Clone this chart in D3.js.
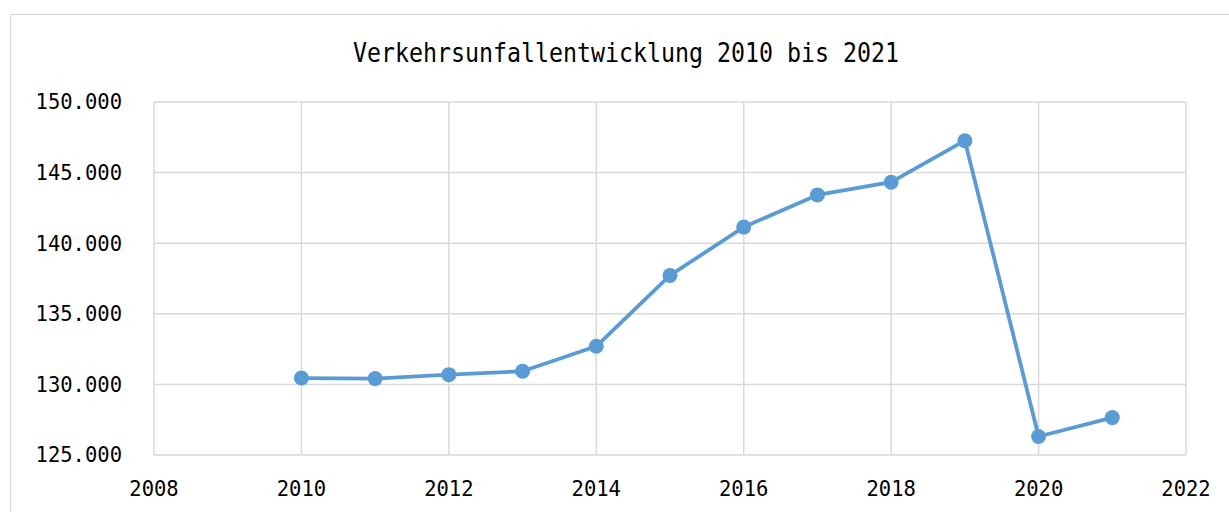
<!DOCTYPE html>
<html lang="de">
<head>
<meta charset="utf-8">
<title>Verkehrsunfallentwicklung 2010 bis 2021</title>
<script src="https://cdn.jsdelivr.net/npm/d3@7"></script>
<style>
    html, body { margin: 0; padding: 0; background: #fff; }
    svg { display: block; }
    .grid line, .grid path { stroke: #d9d9d9; stroke-width: 1.5; }
    .tick-label { font-family: "DejaVu Sans Mono", "Liberation Mono", monospace; font-size: 20.5px; fill: #000; }
    .title { font-family: "DejaVu Sans Mono", "Liberation Mono", monospace; font-size: 27px; fill: #000; }
</style>
</head>
<body>
<svg id="chart"></svg>
<script>
// Daten
const years = [2010, 2011, 2012, 2013, 2014, 2015, 2016, 2017, 2018, 2019, 2020, 2021];
const accidents = [130450, 130410, 130690, 130930, 132700, 137720, 141140, 143420, 144320, 147260, 126310, 127650];
const xTicks = [2008, 2010, 2012, 2014, 2016, 2018, 2020, 2022];
const yTicks = [125000, 130000, 135000, 140000, 145000, 150000];
const chartTitle = "Verkehrsunfallentwicklung 2010 bis 2021";

document.addEventListener('DOMContentLoaded', function() {
    const width = 1229, height = 512;
    const plot = { left: 154, right: 1186, top: 102, bottom: 455 };

    const de = d3.formatLocale({ decimal: ",", thousands: ".", grouping: [3], currency: ["", " €"] });
    const fmt = de.format(",.0f");

    const svg = d3.select("#chart")
        .attr("width", width)
        .attr("height", height);

    // Rahmen
    svg.append("rect")
        .attr("x", 10.5).attr("y", 14.5)
        .attr("width", 1260).attr("height", 520)
        .attr("fill", "none")
        .attr("stroke", "#d9d9d9")
        .attr("stroke-width", 1.3);

    const x = d3.scaleLinear().domain([2008, 2022]).range([plot.left, plot.right]);
    const y = d3.scaleLinear().domain([125000, 150000]).range([plot.bottom, plot.top]);

    // Gitternetz
    const grid = svg.append("g").attr("class", "grid");
    xTicks.forEach(t => {
        grid.append("line")
            .attr("x1", x(t)).attr("x2", x(t))
            .attr("y1", plot.top).attr("y2", plot.bottom);
    });
    yTicks.forEach(t => {
        grid.append("line")
            .attr("x1", plot.left).attr("x2", plot.right)
            .attr("y1", y(t)).attr("y2", y(t));
    });

    // Achsenbeschriftung
    svg.selectAll(".ylab")
        .data(yTicks)
        .join("text")
        .attr("class", "tick-label")
        .attr("x", 122)
        .attr("y", d => y(d))
        .attr("dy", "0.36em")
        .attr("text-anchor", "end")
        .text(d => fmt(d));

    svg.selectAll(".xlab")
        .data(xTicks)
        .join("text")
        .attr("class", "tick-label")
        .attr("x", d => x(d))
        .attr("y", 496)
        .attr("text-anchor", "middle")
        .text(d => d);

    // Titel
    svg.append("text")
        .attr("class", "title")
        .attr("x", 353)
        .attr("y", 62)
        .attr("textLength", 546)
        .attr("lengthAdjust", "spacingAndGlyphs")
        .text(chartTitle);

    // Linie
    const data = years.map((yr, i) => ({ year: yr, value: accidents[i] }));
    const line = d3.line().x(d => x(d.year)).y(d => y(d.value));

    svg.append("path")
        .datum(data)
        .attr("fill", "none")
        .attr("stroke", "#5b9bd5")
        .attr("stroke-width", 3.8)
        .attr("stroke-linejoin", "round")
        .attr("d", line);

    svg.selectAll(".dot")
        .data(data)
        .join("circle")
        .attr("class", "dot")
        .attr("cx", d => x(d.year))
        .attr("cy", d => y(d.value))
        .attr("r", 7.5)
        .attr("fill", "#5b9bd5");
});
</script>
</body>
</html>
